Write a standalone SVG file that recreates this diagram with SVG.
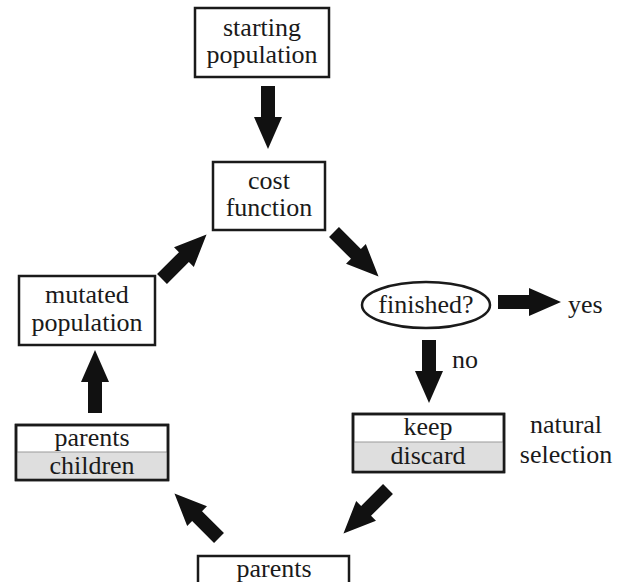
<svg xmlns="http://www.w3.org/2000/svg" xmlns:xlink="http://www.w3.org/1999/xlink" width="624" height="582" viewBox="0 0 624 582" font-family="Liberation Serif, Tinos, DejaVu Serif, Noto Serif, Times New Roman, Times, serif">
<style>
text{font-size:26px;fill:#1a1a1a;text-anchor:middle}
.box{fill:#fff;stroke:#1a1a1a;stroke-width:2.5}
.shade{fill:#dedede}
.div{stroke:#999;stroke-width:1}
.arr{fill:#111}
</style>
<defs>
<path id="arrow" class="arr" d="M0,-7 H31 V-14 L63,0 L31,14 V7 H0 Z"/>
</defs>
<rect width="624" height="582" fill="#fff"/>
<g id="connectors">
<use xlink:href="#arrow" transform="translate(268,86) rotate(90)"/>
<use xlink:href="#arrow" transform="translate(334,232) rotate(45)"/>
<use xlink:href="#arrow" transform="translate(498,302)"/>
<use xlink:href="#arrow" transform="translate(429,340) rotate(90)"/>
<use xlink:href="#arrow" transform="translate(388,489) rotate(135)"/>
<use xlink:href="#arrow" transform="translate(219,538) rotate(-135)"/>
<use xlink:href="#arrow" transform="translate(95,413) rotate(-90)"/>
<use xlink:href="#arrow" transform="translate(162,279) rotate(-45)"/>
<text x="568" y="313" style="text-anchor:start">yes</text>
<text x="452" y="368" style="text-anchor:start">no</text>
</g>
<g id="starting">
<rect class="box" x="195" y="8" width="134" height="69"/>
<text x="262" y="36">starting</text>
<text x="262" y="63">population</text>
</g>
<g id="cost">
<rect class="box" x="213" y="162" width="112" height="68"/>
<text x="269" y="189">cost</text>
<text x="269" y="216">function</text>
</g>
<g id="finished">
<ellipse cx="426" cy="305" rx="64" ry="23" fill="#fff" stroke="#1a1a1a" stroke-width="2.5"/>
<text x="426" y="313">finished?</text>
</g>
<g id="selection">
<rect class="box" x="353" y="414" width="151" height="58"/>
<rect class="shade" x="354.5" y="442" width="148" height="28.5"/>
<line class="div" x1="354" y1="442" x2="503" y2="442"/>
<rect x="353" y="414" width="151" height="58" fill="none" stroke="#1a1a1a" stroke-width="2.5"/>
<text x="428" y="435">keep</text>
<text x="428" y="464">discard</text>
<text x="566" y="433">natural</text>
<text x="566" y="463">selection</text>
</g>
<g id="parents">
<rect class="box" x="198" y="556" width="151" height="30"/>
<text x="274" y="577">parents</text>
</g>
<g id="offspring">
<rect class="box" x="16" y="425" width="152" height="55"/>
<rect class="shade" x="17.5" y="452" width="149" height="26.5"/>
<line class="div" x1="17" y1="452" x2="167" y2="452"/>
<rect x="16" y="425" width="152" height="55" fill="none" stroke="#1a1a1a" stroke-width="2.5"/>
<text x="92" y="446">parents</text>
<text x="92" y="474">children</text>
</g>
<g id="mutated">
<rect class="box" x="19" y="276" width="136" height="69"/>
<text x="87" y="303">mutated</text>
<text x="87" y="331">population</text>
</g>
</svg>
